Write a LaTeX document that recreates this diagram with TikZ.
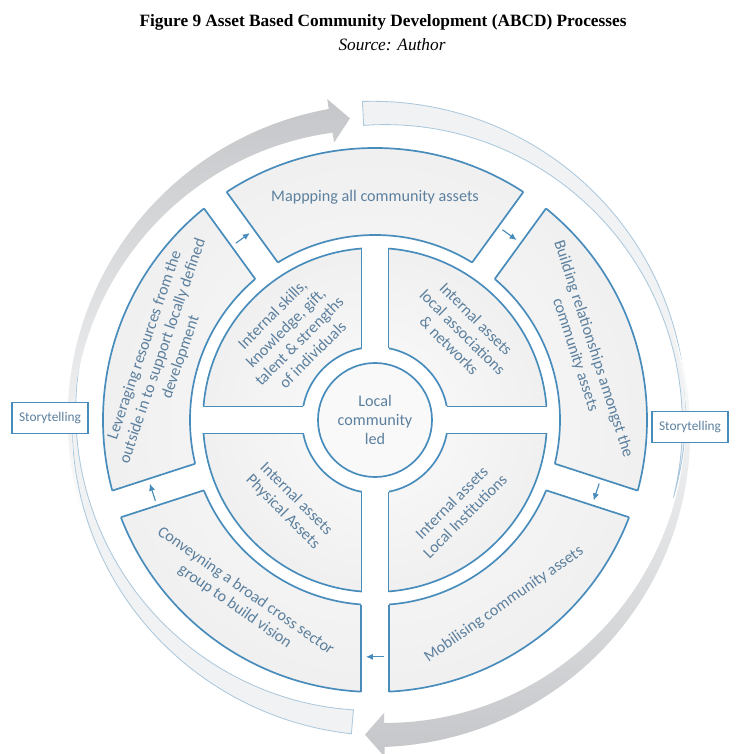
\documentclass[tikz,border=0pt]{standalone}
\usepackage{fontspec}
\setmainfont{Liberation Serif}
\newfontfamily\abcdfont{Carlito}
\usetikzlibrary{calc,arrows.meta}

\definecolor{ringblue}{RGB}{72,140,188}
\definecolor{textblue}{RGB}{92,128,158}
\definecolor{arrowgray}{RGB}{196,198,201}
\definecolor{ghostfill}{RGB}{240,242,244}
\definecolor{ghostline}{RGB}{172,200,220}

\tikzset{
  part/.style={draw=ringblue, line width=1.2pt},
  gapcut/.style={draw=white, line width=19.9pt},
  ringtext/.style={text=textblue, align=center, inner sep=1pt,
    font=\abcdfont\fontsize{11.5}{13.5}\selectfont},
  flow/.style={draw=ringblue, line width=0.8pt, -{Latex[length=5pt, width=4.5pt]}},
  storybox/.style={draw=ringblue, line width=1.2pt, fill=white, text=textblue,
    minimum width=54pt, minimum height=22pt, inner sep=2pt,
    font=\abcdfont\fontsize{9.5}{11}\selectfont},
}

\begin{document}
\begin{tikzpicture}[x=0.025cm, y=0.025cm]
  \useasboundingbox (-375,-334) rectangle (363,420);

  % Caption
  \node[font=\bfseries\fontsize{12.3}{14}\selectfont] (title) at (8,398)
    {Figure 9 Asset Based Community Development (ABCD) Processes};
  \node[font=\itshape\fontsize{12.3}{14}\selectfont] (source) at (17,375) {Source: Author};

  % Outer ring of five steps
  \shade[even odd rule, inner color=gray!3, outer color=gray!12]
    (0,0) circle (185) (0,0) circle (272);
  \draw[part] (0,0) circle (185) (0,0) circle (272);
  \foreach \a in {54,126,198,270,342}
    \draw[gapcut] (\a:176) -- (\a:282);
  \foreach \a in {54,126,198,270,342} {
    \draw[part] ($(\a:184.5)+(\a+90:14)$) -- ($(\a:271.6)+(\a+90:14)$);
    \draw[part] ($(\a:184.5)+(\a-90:14)$) -- ($(\a:271.6)+(\a-90:14)$);
  }

  % Inner quadrants
  \shade[even odd rule, inner color=gray!3, outer color=gray!12]
    (0,0) circle (172) (0,0) circle (73);
  \draw[part] (0,0) circle (172) (0,0) circle (73);
  \foreach \a in {0,90,180,270}
    \draw[gapcut, line width=19.2pt] (\a:64) -- (\a:178);
  \foreach \a in {0,90,180,270} {
    \draw[part] ($(\a:71.7)+(\a+90:13.5)$) -- ($(\a:171.5)+(\a+90:13.5)$);
    \draw[part] ($(\a:71.7)+(\a-90:13.5)$) -- ($(\a:171.5)+(\a-90:13.5)$);
  }

  % Hub
  \node[circle, part, fill=gray!5, ringtext, minimum size=2.85cm, inner sep=0pt]
    (hub) at (0,0) {Local\\community\\led};

  % Steps
  \node[ringtext] (mapping) at (90:223) {Mappping all community assets};
  \node[ringtext, rotate=-72] (building) at (18:220)
    {Building relationships amongst the\\community assets};
  \node[ringtext, rotate=35] (mobilising) at (-55:225) {Mobilising community assets};
  \node[ringtext, rotate=-35] (conveying) at (-127:224)
    {Conveyning a broad cross sector\\group to build vision};
  \node[ringtext, rotate=71] (leveraging) at (162:223)
    {Leveraging resources from the\\outside in to support locally defined\\development};

  % Assets
  \node[ringtext, rotate=45] (skills) at (134:119)
    {Internal skills,\\knowledge, gift,\\talent \& strengths\\of individuals};
  \node[ringtext, rotate=-45] (networks) at (45:124)
    {Internal assets\\local associations\\\& networks};
  \node[ringtext, rotate=-45] (physical) at (225:121) {Internal assets\\Physical Assets};
  \node[ringtext, rotate=45] (institutions) at (-47:122) {Internal assets\\Local Institutions};

  % Step to step
  \foreach \a/\r [count=\i] in {126/225, 54/229, -18/233, -90/237, -162/234} {
    \coordinate (from\i) at ({\a+2.2}:\r);
    \coordinate (to\i) at ({\a-2.2}:\r);
    \draw[flow] (from\i) -- (to\i);
  }

  % Light bands
  \begin{scope}[shift={(4,2)}]
    \filldraw[fill=ghostfill, draw=ghostline, line width=0.6pt]
      plot[domain=93:-15, samples=60] (\x:{305+12*(\x+15)/108})
      -- plot[domain=-15:93, samples=60] (\x:{305-12*(\x+15)/108}) -- cycle;
    \filldraw[fill=ghostfill, draw=ghostline, line width=0.6pt]
      plot[domain=265:165, samples=60] (\x:{305+12*(\x-165)/100})
      -- plot[domain=165:265, samples=60] (\x:{305-12*(\x-165)/100}) -- cycle;
  \end{scope}

  % Grey cycle arrows
  \begin{scope}[shift={(4,-6)}]
    \shade[top color=arrowgray, bottom color=white]
      plot[domain=200:99, samples=60] (\x:{309+12*(200-\x)/101})
      -- (99:331) -- (95.4:309) -- (99:287)
      -- plot[domain=99:200, samples=60] (\x:{309-12*(200-\x)/101}) -- cycle;
    \shade[bottom color=arrowgray, top color=white]
      plot[domain=20:-89, samples=60] (\x:{309+12*(20-\x)/109})
      -- (-89:331) -- (-92.6:309) -- (-89:287)
      -- plot[domain=-89:20, samples=60] (\x:{309-12*(20-\x)/109}) -- cycle;
  \end{scope}

  % Storytelling
  \node[storybox] (storyleft) at (-325,2) {Storytelling};
  \node[storybox] (storyright) at (315,-7) {Storytelling};
\end{tikzpicture}
\end{document}
